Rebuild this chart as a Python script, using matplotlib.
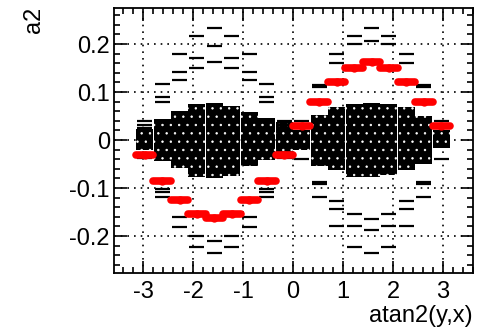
import numpy as np
import matplotlib
matplotlib.use("Agg")
import matplotlib.pyplot as plt

plt.rcParams['font.family'] = ['Liberation Sans', 'DejaVu Sans']
plt.rcParams['hatch.linewidth'] = 0.5

# bin centres in atan2(y,x), 18 bins over [-pi, pi]
phi = np.array([-2.967, -2.618, -2.269, -1.920, -1.571, -1.222, -0.873, -0.524, -0.175,
                0.175, 0.524, 0.873, 1.222, 1.571, 1.920, 2.269, 2.618, 2.967])
half_bin = 0.1745

# profile (mean a2 per bin), red
a2_mean = np.array([-0.031, -0.085, -0.125, -0.154, -0.163, -0.154, -0.125, -0.085, -0.031,
                    0.029, 0.080, 0.121, 0.150, 0.163, 0.150, 0.121, 0.080, 0.029])

# extent of the dense scatter cloud per bin
cloud_hi = np.array([0.022, 0.044, 0.060, 0.076, 0.078, 0.070, 0.058, 0.045, 0.038,
                     0.021, 0.052, 0.069, 0.076, 0.078, 0.076, 0.069, 0.049, 0.021])
cloud_lo = np.array([-0.020, -0.044, -0.058, -0.076, -0.080, -0.075, -0.055, -0.042, -0.036,
                     -0.020, -0.055, -0.063, -0.076, -0.078, -0.072, -0.063, -0.049, -0.016])

# isolated entries (short horizontal streaks): bin index, a2
dash_bin = [0, 0, 0, 1, 1, 1, 2, 2, 2, 3, 3, 3, 4, 4, 4, 5, 5, 5, 6, 6, 6, 7, 7, 7, 8, 8, 8,
            0, 1, 1, 1, 2, 2, 3, 3, 4, 4, 5, 5, 6, 6, 7, 7, 7, 8,
            9, 9, 10, 10, 11, 11, 12, 12, 13, 13, 14, 14, 15, 15, 16, 16, 17, 17,
            9, 10, 10, 10, 11, 11, 11, 12, 12, 12, 13, 13, 13, 14, 14, 14, 15, 15, 15,
            16, 16, 16, 17]
dash_a2 = [0.040, 0.031, 0.025, 0.117, 0.090, 0.079, 0.179, 0.142, 0.125,
           0.217, 0.171, 0.149, 0.233, 0.196, 0.162, 0.217, 0.171, 0.149,
           0.179, 0.142, 0.125, 0.117, 0.090, 0.079, 0.040, 0.031, 0.025,
           -0.038, -0.102, -0.108, -0.119, -0.160, -0.181, -0.200, -0.222, -0.210, -0.235,
           -0.200, -0.222, -0.160, -0.181, -0.102, -0.108, -0.119, -0.038,
           0.040, 0.031, 0.115, 0.110, 0.179, 0.160, 0.217, 0.200, 0.233, 0.206,
           0.217, 0.200, 0.179, 0.160, 0.115, 0.110, 0.040, 0.031,
           -0.040, -0.087, -0.092, -0.118, -0.126, -0.144, -0.179, -0.154, -0.179, -0.222,
           -0.165, -0.188, -0.235, -0.154, -0.179, -0.222, -0.126, -0.144, -0.179,
           -0.087, -0.092, -0.118, -0.040]

fig = plt.figure(figsize=(4.81, 3.29), dpi=100)
ax = fig.add_axes([114/481, 1 - 273/329, (473-114)/481, (273-8)/329])

# dense cloud
ax.bar(phi, cloud_hi - cloud_lo, bottom=cloud_lo, width=0.34, color='black',
       edgecolor='white', linewidth=0, hatch='..', zorder=2)

# isolated streaks
dx = phi[dash_bin]
ax.hlines(dash_a2, dx - 0.15, dx + 0.15, colors='black', linewidth=1.6, zorder=3)

# profile
eb = ax.errorbar(phi, a2_mean, xerr=half_bin, fmt='o', color='red', ms=5,
                 elinewidth=5.5, capsize=0, zorder=4)
for lc in eb[2]:
    lc.set_capstyle('round')

ax.set_xlim(-3.58, 3.6)
ax.set_ylim(-0.277, 0.275)
ax.set_xticks([-3, -2, -1, 0, 1, 2, 3])
ax.set_xticklabels(['-3', '-2', '-1', '0', '1', '2', '3'])
ax.set_yticks([-0.2, -0.1, 0, 0.1, 0.2])
ax.set_yticklabels(['-0.2', '-0.1', '0', '0.1', '0.2'])
ax.set_xticks(np.arange(-3.4, 3.61, 0.2), minor=True)
ax.set_yticks(np.arange(-0.26, 0.27, 0.02), minor=True)
ax.tick_params(which='both', direction='in', top=True, right=True, width=1.2)
ax.tick_params(which='major', length=9, labelsize=17)
ax.tick_params(axis='x', which='major', pad=6)
ax.tick_params(axis='y', which='major', pad=3)
ax.tick_params(which='minor', length=4.5)
for s in ax.spines.values():
    s.set_linewidth(1.3)

ax.set_axisbelow(True)
ax.grid(True, which='major', color='black', linestyle=(0, (1, 3)), linewidth=1.2)

fig.text(34/481, 1 - 7/329, 'a2', rotation=90, ha='center', va='top', fontsize=17)
fig.text(473/481, 1 - 305/329, 'atan2(y,x)', ha='right', va='top', fontsize=17)

fig.savefig('out.png', dpi=100)
